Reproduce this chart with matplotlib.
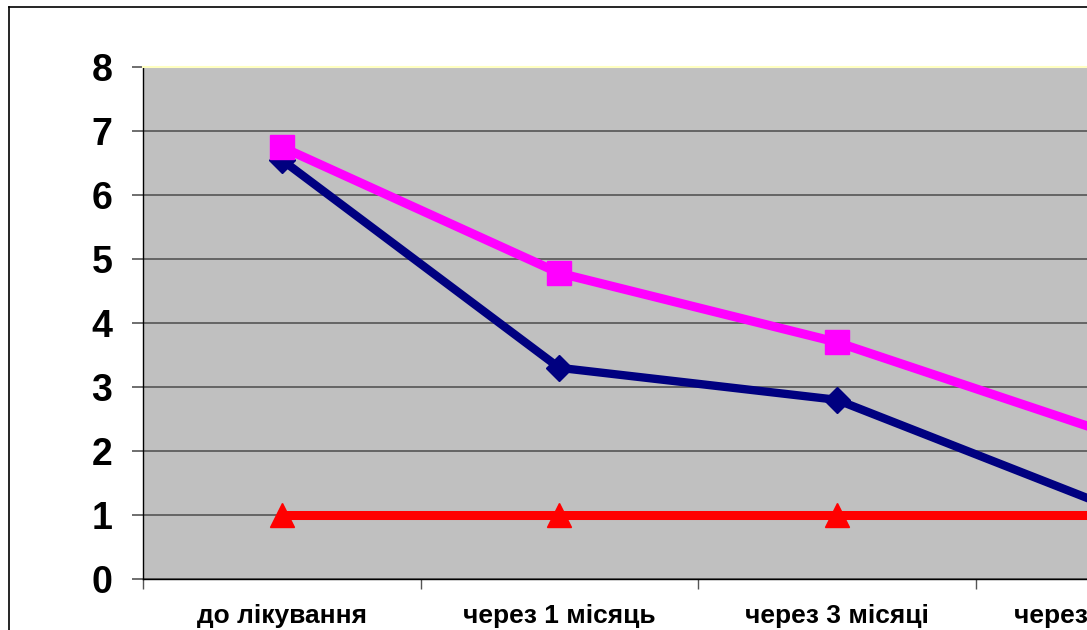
import numpy as np
import matplotlib.pyplot as plt
from matplotlib.lines import Line2D

plt.rcParams['font.family'] = ['Liberation Sans', 'DejaVu Sans']
plt.rcParams['font.weight'] = 'bold'

periods = ['до лікування', 'через 1 місяць', 'через 3 місяці', 'через 6 місяців']
series_blue = [6.55, 3.3, 2.8, 1.1]
series_pink = [6.75, 4.78, 3.7, 2.25]
series_red = [1, 1, 1, 1]

fig = plt.figure(figsize=(10.87, 6.3), dpi=100)
# plot area runs past the right edge of the figure
ax = fig.add_axes([143/1087, 1 - 579/630, 1110/1087, 512/630])
ax.set_facecolor('#c0c0c0')

x = np.arange(len(periods))
ax.plot(x, series_blue, color='#000080', lw=6, marker='D', ms=13, zorder=3)
ax.plot(x, series_pink, color='#ff00ff', lw=6.5, marker='s', ms=17, zorder=4)
ax.plot(x, series_red, color='#ff0000', lw=6.5, marker='^', ms=17, zorder=5)

ax.set_xlim(-0.5, len(periods) - 0.5)
ax.set_ylim(0, 8)
ax.set_yticks(range(0, 9))
ax.yaxis.grid(True, color='#555555', lw=1.2)
ax.set_axisbelow(True)

ax.set_xticks(x)
ax.set_xticklabels(periods, fontsize=19, fontweight='bold')
ax.set_xticks(np.arange(-0.5, len(periods), 1), minor=True)
ax.tick_params(axis='x', which='major', length=0, pad=18)
ax.tick_params(axis='x', which='minor', length=7, width=1, direction='out', color='#555555')
ax.tick_params(axis='y', length=8, width=1.2, color='#555555', pad=14, labelsize=27)
for lbl in ax.get_yticklabels():
    lbl.set_fontweight('bold')

for s in ['left', 'bottom']:
    ax.spines[s].set_color('black')
    ax.spines[s].set_linewidth(1)
ax.spines['top'].set_color('#ffffc0')
ax.spines['top'].set_linewidth(1.5)
ax.spines['right'].set_visible(False)

# chart frame
fig.add_artist(Line2D([9/1087, 9/1087], [0, 1 - 7/630], color='black', lw=1.2,
                      transform=fig.transFigure))
fig.add_artist(Line2D([9/1087, 1], [1 - 7/630, 1 - 7/630], color='black', lw=1.2,
                      transform=fig.transFigure))

fig.savefig('out.png', dpi=100)
